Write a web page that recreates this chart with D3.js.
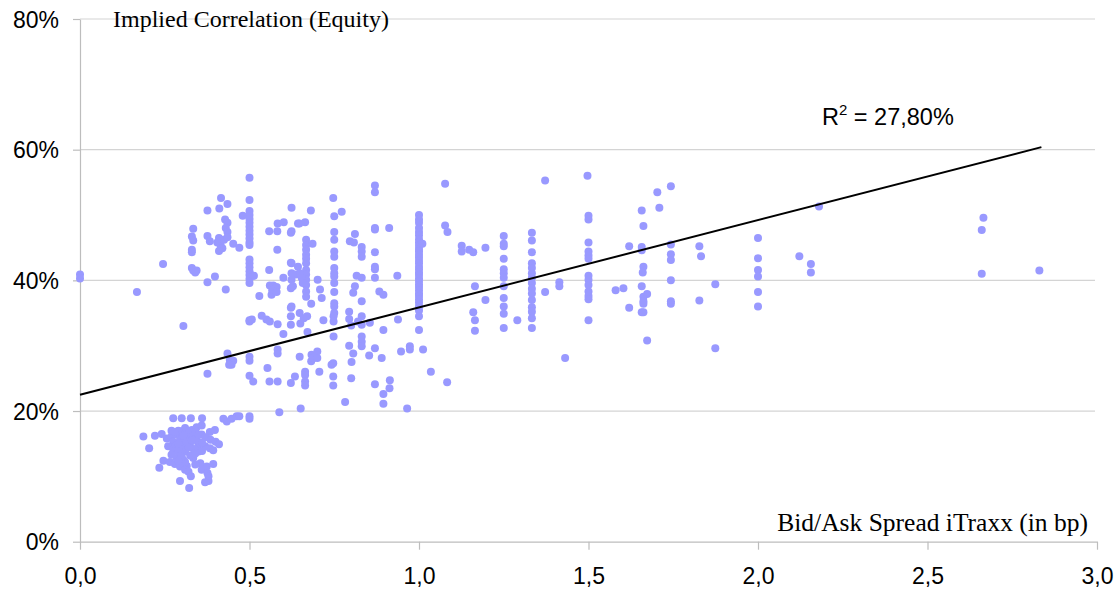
<!DOCTYPE html>
<html>
<head>
<meta charset="utf-8">
<script src="https://cdn.jsdelivr.net/npm/d3@7"></script>
<style>
  body { margin: 0; background: #fff; }
  svg { display: block; }
  .tick text { font-family: "Liberation Sans", Arial, sans-serif; font-size: 23px; fill: #000; }
</style>
</head>
<body>
<div id="chart"></div>
<script>
/* Implied correlation (equity tranche) vs. bid/ask spread of iTraxx */

// tick values
const xTicks = [0, 0.5, 1, 1.5, 2, 2.5, 3];
const yTicks = [0, 20, 40, 60, 80];

// trend line (y in %)
const trendIntercept = 22.5,
    trendSlope = 13.36,
    trendEnd = 2.836;
const rSquared = "27,80%";

// scatter points [bid/ask spread in bp, implied correlation in %]
const lowCluster = [
  [0.275,18.9],[0.30,18.9],[0.327,18.9],[0.36,18.9],[0.187,16.1],[0.204,14.3],[0.221,16.2],[0.241,16.5],
  [0.256,15.8],[0.27,16.1],[0.285,16.4],[0.30,16.9],[0.31,17.4],[0.33,17.1],[0.344,17.5],[0.359,17.8],
  [0.383,16.8],[0.398,17.1],[0.275,15.3],[0.295,15.6],[0.315,15.8],[0.339,16.1],[0.359,16.4],[0.26,14.6],
  [0.28,14.6],[0.30,14.8],[0.324,14.9],[0.349,14.8],[0.369,14.6],[0.383,14.3],[0.393,14.0],[0.275,13.8],
  [0.295,13.5],[0.31,13.8],[0.285,12.8],[0.305,12.5],[0.334,12.8],[0.246,12.4],[0.234,11.3],[0.265,12.2],
  [0.28,11.9],[0.295,11.5],[0.315,11.6],[0.31,11.0],[0.32,10.7],[0.359,11.0],[0.374,11.5],[0.393,11.9],
  [0.376,10.5],[0.379,10.0],[0.379,9.3],[0.369,9.1],[0.295,9.3],[0.327,10.0],[0.322,8.2],
  [0.29,17.0],[0.32,16.5],[0.345,15.5],[0.36,15.2],[0.325,13.2],[0.35,13.8],[0.30,14.0],[0.335,14.2],
  [0.31,12.2],[0.355,12.0],[0.32,16.0],[0.29,14.2],[0.27,17.0],[0.34,11.8],[0.29,15.0],
  [0.28,16.8],[0.305,16.2],[0.315,15.2],[0.33,15.5],[0.34,16.8],[0.35,16.4],[0.37,16.0],[0.385,15.6],
  [0.40,15.3],[0.41,14.9],[0.30,13.0],[0.32,14.4],[0.34,13.5],[0.36,13.9],[0.27,13.3],[0.29,12.4],
  [0.423,18.8],[0.433,18.4],[0.447,18.8],[0.462,19.2],[0.47,19.2],[0.50,18.8],[0.50,19.2]
];

const leftCluster = [
  [0,40.9],[0,40.3],[0.168,38.2],[0.245,42.5],[0.305,33.0],[0.376,25.7],
  [0.435,28.8],[0.442,27.8],[0.452,27.7],[0.447,27.1],[0.44,27.1],
  [0.416,52.6],[0.435,51.7],[0.411,51.0],[0.376,50.7],[0.428,49.3],[0.435,48.8],[0.43,48.0],[0.435,47.4],
  [0.334,47.9],[0.33,46.7],[0.334,46.1],[0.376,46.8],[0.383,46.0],[0.41,46.5],[0.405,45.8],[0.415,45.3],
  [0.425,46.2],[0.435,46.6],[0.42,44.9],[0.41,44.5],[0.452,45.6],[0.47,45.0],[0.33,44.7],[0.33,44.3],
  [0.33,41.9],[0.334,41.5],[0.344,41.5],[0.34,41.2],[0.398,40.6],[0.376,39.7],[0.43,38.6],[0.48,49.9]
];

const halfColumn = [
  [0.5,55.7],[0.5,52.3],[0.5,50.6],[0.5,50.0],[0.5,49.4],[0.5,48.8],[0.5,48.2],[0.5,47.6],[0.5,47.0],
  [0.5,46.4],[0.5,45.8],[0.5,45.4],[0.5,43.2],[0.5,42.6],[0.5,42.0],[0.5,41.4],[0.5,40.8],[0.5,40.2],
  [0.5,39.6],[0.5,33.9],[0.5,33.7],[0.5,28.3],[0.5,27.7],[0.5,25.4],
  [0.51,40.7],[0.513,40.7],[0.507,34.0],[0.511,24.5]
];

const midCluster = [
  [0.529,37.6],[0.558,41.6],[0.558,47.5],[0.582,47.5],[0.583,48.7],[0.601,48.9],[0.624,51.1],[0.643,48.7],
  [0.624,47.5],[0.582,44.7],[0.624,42.6],[0.624,41.1],[0.637,40.9],[0.643,42.1],[0.60,40.4],[0.56,39.2],
  [0.57,39.2],[0.58,39.0],[0.567,38.5],[0.565,37.8],[0.58,38.2],[0.624,40.1],[0.628,39.1],[0.624,36.0],
  [0.681,50.7],[0.747,52.6],[0.772,50.5],[0.87,54.5],[0.87,53.5],[0.622,47.3],[0.647,48.7],[0.664,48.9],
  [0.667,46.2],[0.667,45.4],[0.667,44.7],[0.667,43.9],[0.667,43.3],[0.667,42.6],[0.667,41.6],[0.667,40.9],
  [0.667,40.1],[0.667,39.3],[0.667,38.3],[0.667,37.5],
  [0.686,45.6],[0.622,42.7],[0.622,38.8],[0.649,41.1],[0.654,40.4],[0.657,39.6],[0.701,40.1],[0.708,38.6],[0.713,37.3],
  [0.75,49.8],[0.75,47.4],[0.75,46.2],[0.75,44.4],[0.75,43.6],[0.75,41.9],[0.75,41.1],[0.75,40.6],
  [0.75,39.6],[0.75,38.2],[0.75,36.5],[0.75,36.0],[0.75,35.0],
  [0.796,46.0],[0.808,45.8],[0.811,47.1],[0.831,45.1],[0.831,44.4],[0.831,43.6],[0.816,40.7],[0.831,40.4],
  [0.811,39.1],[0.806,38.1],[0.831,36.8],[0.87,48.0],[0.87,47.8],[0.87,44.3],[0.87,42.1],[0.87,41.7],
  [0.87,40.4],[0.883,38.3],[0.895,37.8],[0.912,48.0],[0.936,40.7],
  [0.536,34.6],[0.55,34.0],[0.56,33.7],[0.583,33.3],[0.60,31.8],[0.622,35.8],[0.622,34.5],[0.622,33.2],
  [0.648,35.0],[0.65,33.4],[0.66,34.2],[0.67,34.5],[0.671,32.1],[0.682,36.4],[0.718,33.9],[0.748,34.5],
  [0.748,33.7],[0.748,31.4],[0.794,35.2],[0.794,34.1],[0.80,33.1],[0.82,33.7],[0.831,34.5],[0.831,33.2],
  [0.831,31.4],[0.831,30.6],[0.831,29.9],[0.855,33.5],[0.895,32.4],[0.87,29.6],[0.89,28.1],[0.853,28.5],
  [0.938,34.0],[0.947,29.1],[0.973,29.9],[0.973,29.4],
  [0.583,29.4],[0.583,28.8],[0.553,26.6],[0.559,24.5],[0.583,24.5],[0.622,24.3],[0.634,25.3],[0.648,28.3],
  [0.664,26.0],[0.664,25.5],[0.664,24.5],[0.664,23.9],[0.683,28.6],[0.682,27.6],[0.689,28.1],[0.70,29.1],
  [0.70,28.1],[0.651,20.4],[0.588,19.8],[0.706,26.0],[0.742,27.1],[0.747,27.3],[0.747,25.3],[0.747,23.9],
  [0.782,21.4],[0.794,30.0],[0.806,28.8],[0.801,27.5],[0.80,25.0],[0.87,24.1],[0.895,22.6],[0.913,23.5],
  [0.914,24.7],[0.895,21.1],[0.965,20.4]
];

const oneColumn = [
  [1,50.0],[1,49.3],[1,48.8],[1,48.0],[1,47.4],[1,46.9],[1,46.3],[1,45.8],[1,45.3],[1,44.8],[1,44.4],
  [1,43.9],[1,43.5],[1,43.0],[1,42.6],[1,42.1],[1,41.7],[1,41.2],[1,40.8],[1,40.3],[1,39.9],[1,39.4],
  [1,39.0],[1,38.5],[1,38.0],[1,37.6],[1,37.1],[1,36.6],[1,36.0],[1,35.4],[1,34.5],[1,32.4],
  [1.01,45.6],[1.012,29.4],[1.035,26.0],[1.083,24.4]
];

const rightCluster = [
  [1.077,54.8],[1.372,55.3],[1.497,56.0],[1.077,48.4],[1.084,47.4],[1.126,45.3],[1.126,44.4],[1.148,44.7],
  [1.16,44.3],[1.196,45.0],
  [1.25,46.8],[1.25,45.6],[1.25,45.2],[1.25,43.3],[1.25,41.7],[1.25,41.1],[1.25,40.4],[1.25,39.1],
  [1.25,37.3],[1.25,36.0],[1.25,34.9],[1.25,32.7],
  [1.165,39.1],[1.196,37.0],[1.16,35.1],[1.165,33.9],[1.165,32.3],[1.29,33.9],
  [1.333,47.3],[1.333,46.1],[1.333,44.3],[1.333,42.6],[1.333,41.9],[1.333,41.1],[1.333,40.4],[1.333,39.6],
  [1.333,38.7],[1.333,38.0],[1.333,37.0],[1.333,35.9],[1.333,35.2],[1.333,34.2],[1.333,32.7],
  [1.372,38.2],[1.414,39.7],[1.414,39.1],[1.431,28.1],
  [1.5,49.9],[1.5,49.3],[1.5,45.8],[1.5,44.4],[1.5,43.8],[1.5,43.3],[1.5,40.7],[1.5,40.1],[1.5,39.3],
  [1.5,38.3],[1.5,37.6],[1.5,37.1],[1.5,33.9],
  [1.58,38.5],[1.603,38.8],[1.62,45.2],[1.62,35.8],[1.657,50.7],[1.662,48.3],[1.657,45.1],[1.657,44.6],
  [1.662,42.1],[1.66,41.2],[1.657,39.1],[1.662,37.5],[1.673,37.9],[1.662,36.8],[1.662,36.4],[1.657,35.1],
  [1.662,35.1],[1.673,30.8],[1.703,53.5],[1.743,54.4],[1.709,51.1],[1.743,45.5],[1.743,44.0],[1.743,43.1],
  [1.743,40.0],[1.743,36.8],[1.743,36.4],[1.827,45.2],[1.832,43.7],[1.827,36.9],[1.874,39.4],[1.874,29.6],
  [2.0,46.5],[2.0,43.4],[2.0,41.6],[2.0,40.6],[2.0,38.2],[2.0,36.0],[2.122,43.7],[2.156,42.5],[2.156,41.2],
  [2.18,51.3],[2.665,49.6],[2.66,47.7],[2.66,41.0],[2.83,41.5]
];

const points = [].concat(lowCluster, leftCluster, halfColumn, midCluster, oneColumn, rightCluster);

const width = 1120,
    height = 594,
    margin = ({ top: 19, right: 23, bottom: 52.3, left: 80 });

const svg = d3.select("#chart")
    .append("svg")
    .attr("width", width)
    .attr("height", height)
    .attr("viewBox", [0, 0, width, height]);

const x = d3.scaleLinear()
    .domain([0, 3])
    .range([margin.left, width - margin.right]);

const y = d3.scaleLinear()
    .domain([0, 80])
    .range([height - margin.bottom, margin.top]);

const comma = d3.formatLocale({ decimal: ",", thousands: ".", grouping: [3], currency: ["", ""] });

/* horizontal gridlines */
svg.append("g")
  .selectAll("line")
  .data(yTicks.filter(d => d > 0))
  .join("line")
    .attr("x1", x(0))
    .attr("x2", x(3) - 2)
    .attr("y1", d => y(d))
    .attr("y2", d => y(d))
    .attr("stroke", "#d4d4d4")
    .attr("stroke-width", 1.2);

/* axes */
const xAxis = svg.append("g")
  .attr("transform", `translate(0,${y(0)})`)
  .call(d3.axisBottom(x).tickValues(xTicks).tickSize(8).tickSizeOuter(0).tickPadding(18)
    .tickFormat(comma.format(".1f")));

const yAxis = svg.append("g")
  .attr("transform", `translate(${x(0)},0)`)
  .call(d3.axisLeft(y).tickValues(yTicks).tickSize(7).tickSizeOuter(0).tickPadding(14)
    .tickFormat(d => d + "%"));

[xAxis, yAxis].forEach(g => {
  g.select(".domain").attr("stroke", "#bdbdbd").attr("stroke-width", 1.2);
  g.selectAll(".tick line").attr("stroke", "#bdbdbd").attr("stroke-width", 1.2);
});
yAxis.selectAll(".tick text").attr("dy", "0.36em");

/* axis titles */
svg.append("text")
  .attr("x", 113)
  .attr("y", 27)
  .attr("font-family", "'Liberation Serif', 'Times New Roman', serif")
  .attr("font-size", 24)
  .text("Implied Correlation (Equity)");

svg.append("text")
  .attr("text-anchor", "end")
  .attr("x", 1088)
  .attr("y", 531)
  .attr("font-family", "'Liberation Serif', 'Times New Roman', serif")
  .attr("font-size", 25.5)
  .text("Bid/Ask Spread iTraxx (in bp)");

/* scatter */
svg.append("g")
  .selectAll("circle")
  .data(points)
  .join("circle")
    .attr("cx", d => x(d[0]))
    .attr("cy", d => y(d[1]))
    .attr("r", 4)
    .attr("fill", "#9999ff");

/* trend line */
const line = d3.line()
  .x(d => x(d))
  .y(d => y(trendIntercept + trendSlope * d));

svg.append("path")
  .datum([0, trendEnd])
  .attr("d", line)
  .attr("fill", "none")
  .attr("stroke", "#000")
  .attr("stroke-width", 2);

/* R squared label */
const r2 = svg.append("text")
  .attr("x", 822)
  .attr("y", 125)
  .attr("font-family", "'Liberation Sans', Arial, sans-serif")
  .attr("font-size", 23.5);
r2.append("tspan").text("R");
r2.append("tspan").attr("font-size", 15).attr("dy", -10).text("2");
r2.append("tspan").attr("dy", 10).text(" = " + rSquared);
</script>
</body>
</html>
